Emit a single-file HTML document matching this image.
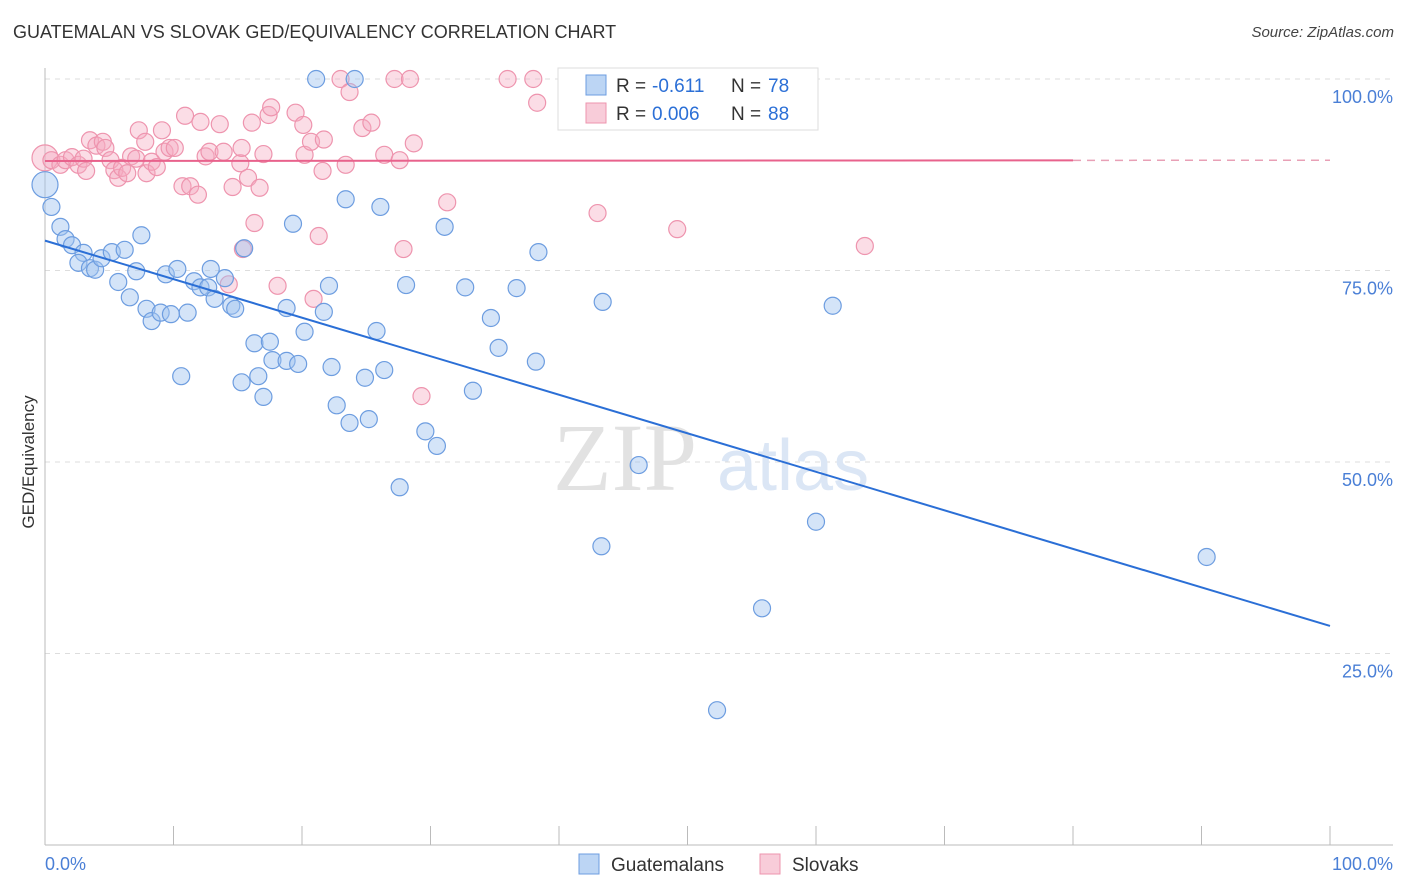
<!DOCTYPE html>
<html><head><meta charset="utf-8">
<style>
body{margin:0;background:#fff;font-family:"Liberation Sans",sans-serif;}
#wrap{position:relative;width:1406px;height:892px;overflow:hidden;}
.t{position:absolute;white-space:nowrap;}
</style></head>
<body>
<div id="wrap">
<div class="t" style="left:13px;top:22px;font-size:18px;color:#333;">GUATEMALAN VS SLOVAK GED/EQUIVALENCY CORRELATION CHART</div>
<div class="t" style="right:12px;top:24px;font-size:15px;color:#444;font-style:italic;">Source: ZipAtlas.com</div>
<svg id="svg" width="1406" height="892" style="position:absolute;left:0;top:0"></svg>
</div>
<script>
const xTickVals=[0,10,20,30,40,50,60,70,80,90,100];
const yTickVals=[25,50,75,100];
const yTickLabels=["25.0%","50.0%","75.0%","100.0%"];
const xAxisLabels=["0.0%","100.0%"];
const guatX=[21.1,24.1,0,0.5,1.2,1.6,2.1,3.0,2.6,3.5,3.9,4.4,5.2,6.2,7.5,7.1,5.7,6.6,7.9,8.3,9.0,9.8,9.4,10.3,11.1,11.6,12.1,12.7,12.9,13.2,14.0,14.5,14.8,15.5,10.6,15.3,16.3,16.6,17.0,17.5,17.7,18.8,18.8,19.3,19.7,20.2,21.7,22.1,22.3,22.7,23.4,23.7,24.9,25.2,25.8,26.1,26.4,28.1,27.6,29.6,30.5,31.1,32.7,33.3,34.7,35.3,36.7,38.2,38.4,43.3,43.4,46.2,52.3,55.8,60.0,61.3,90.4];
const guatY=[100,100,86.2,83.3,80.7,79.1,78.3,77.3,76.0,75.3,75.1,76.6,77.4,77.7,79.6,74.9,73.5,71.5,70.0,68.4,69.5,69.3,74.5,75.2,69.5,73.6,72.8,72.8,75.2,71.3,74.0,70.4,70.0,77.9,61.2,60.4,65.5,61.2,58.5,65.7,63.3,63.2,70.1,81.1,62.8,67.0,69.6,73.0,62.4,57.4,84.3,55.1,61.0,55.6,67.1,83.3,62.0,73.1,46.7,54.0,52.1,80.7,72.8,59.3,68.8,64.9,72.7,63.1,77.4,39.0,70.9,49.6,17.6,30.9,42.2,70.4,37.6];
const slovX=[0,0.5,1.2,1.6,2.1,2.6,3.0,3.2,3.5,4.0,4.5,4.7,5.1,5.4,5.7,6.0,6.4,6.7,7.3,7.1,7.8,7.9,8.3,8.7,9.1,9.3,9.7,10.1,10.7,10.9,11.3,11.9,12.1,12.5,12.8,13.6,13.9,14.3,14.6,15.2,15.3,15.4,15.8,16.1,16.3,16.7,17.0,17.4,17.6,18.1,19.5,20.1,20.2,20.7,20.9,21.3,21.6,21.7,23.0,23.7,23.4,24.7,25.4,26.4,27.2,27.6,27.9,28.4,28.7,29.3,31.3,36.0,38.0,38.3,43.0,49.2,51.8,63.8];
const slovY=[89.7,89.4,88.8,89.4,89.8,88.8,89.6,88.0,92.0,91.3,91.8,91.0,89.4,88.1,87.1,88.4,87.7,89.9,93.3,89.6,91.8,87.7,89.2,88.5,93.3,90.5,91.0,91.0,86.0,95.2,86.0,84.9,94.4,89.9,90.5,94.1,90.5,73.2,85.9,89.0,91.0,77.8,87.1,94.3,81.2,85.8,90.2,95.3,96.3,73.0,95.6,94.0,90.1,91.8,71.3,79.5,88.0,92.1,100,98.3,88.8,93.6,94.3,90.1,100,89.4,77.8,100,91.6,58.6,83.9,100,100,96.9,82.5,80.4,100,78.2];
const guatTrend=[78.9,28.6];
const slovTrend=[89.3,89.4];
const slovTrendSolidEnd=80;

const NS="http://www.w3.org/2000/svg";
const svg=document.getElementById('svg');
const X0=45,X1=1330,Y0=845,Y100=79;
const xs=v=>X0+(X1-X0)*v/100;
const ys=v=>Y0-(Y0-Y100)*v/100;
function mk(tag,attrs,parent){const e=document.createElementNS(NS,tag);for(const k in attrs)e.setAttribute(k,attrs[k]);(parent||svg).appendChild(e);return e;}

yTickVals.forEach((v,i)=>{
  const g=mk('line',{x1:X0,x2:1393,y1:ys(v),y2:ys(v),stroke:'#ddd','stroke-dasharray':'5,5'});
  
  
  const t=mk('text',{x:1393,y:ys(v)+24,'text-anchor':'end','font-size':18,fill:'#4a7fd6','font-family':'Liberation Sans, sans-serif'});
  t.textContent=yTickLabels[i];
  
  
});
const ax=mk('line',{x1:X0,x2:1393,y1:Y0,y2:Y0,stroke:'#bbb'});


const ay=mk('line',{x1:X0,x2:X0,y1:68,y2:Y0,stroke:'#bbb'});


xTickVals.forEach(v=>{
  const t=mk('line',{x1:xs(v),x2:xs(v),y1:826,y2:Y0,stroke:'#bbb'});
  
  
});
[[0,'start',45],[100,'end',1393]].forEach((d,i)=>{
  const t=mk('text',{x:d[2],y:870,'text-anchor':d[1],'font-size':18,fill:'#4a7fd6','font-family':'Liberation Sans, sans-serif'});
  t.textContent=xAxisLabels[i];
  
  
});
const yt=mk('text',{x:34,y:462,'text-anchor':'middle','font-size':17,fill:'#333',transform:'rotate(-90 34 462)','font-family':'Liberation Sans, sans-serif'});
yt.textContent='GED/Equivalency';


const w1=mk('text',{x:553,y:490,'font-size':96,fill:'#e2e2e2','font-family':'Liberation Serif, serif'});
w1.textContent='ZIP';


const w2=mk('text',{x:717,y:490,'font-size':72,fill:'#dbe6f5','font-family':'Liberation Sans, sans-serif'});
w2.textContent='atlas';



slovX.forEach((x,i)=>{
  const c=mk('circle',{cx:xs(x),cy:ys(slovY[i]),r:(x===0?13:8.5),fill:'rgba(244,170,192,0.4)',stroke:'#ee94ae','stroke-width':1.2});
  
  
});
guatX.forEach((x,i)=>{
  const c=mk('circle',{cx:xs(x),cy:ys(guatY[i]),r:(x===0?13:8.5),fill:'rgba(160,195,240,0.45)',stroke:'#6d9de0','stroke-width':1.2});
  
  
});
const bl=mk('line',{x1:xs(0),y1:ys(guatTrend[0]),x2:xs(100),y2:ys(guatTrend[1]),stroke:'#2b6fd6','stroke-width':2});


const sm=slovTrend[0]+(slovTrend[1]-slovTrend[0])*slovTrendSolidEnd/100;
const pl=mk('line',{x1:xs(0),y1:ys(slovTrend[0]),x2:xs(slovTrendSolidEnd),y2:ys(sm),stroke:'#e8628c','stroke-width':2});


const pd=mk('line',{x1:xs(slovTrendSolidEnd),y1:ys(sm),x2:xs(100),y2:ys(slovTrend[1]),stroke:'#e8a0b6','stroke-width':1.5,'stroke-dasharray':'8,6'});



const lg=mk('rect',{x:558,y:68,width:260,height:62,fill:'#fff',stroke:'#ddd'});


[[85,'rgba(160,195,240,0.7)','#6d9de0','-0.611','78'],[113,'rgba(244,170,192,0.6)','#ee94ae','0.006','88']].forEach(r=>{
  const s=mk('rect',{x:586,y:r[0]-10,width:20,height:20,fill:r[1],stroke:r[2]});
  
  
  const parts=[[616,'R =','#333'],[652,r[3],'#2b6fd6'],[731,'N =','#333'],[768,r[4],'#2b6fd6']];
  parts.forEach(p=>{
    const t=mk('text',{x:p[0],y:r[0]+7,'font-size':19,fill:p[2],'font-family':'Liberation Sans, sans-serif'});
    t.textContent=p[1];
    
    
  });
});
[[579,'rgba(160,195,240,0.7)','#6d9de0','Guatemalans'],[760,'rgba(244,170,192,0.6)','#ee94ae','Slovaks']].forEach(r=>{
  const s=mk('rect',{x:r[0],y:854,width:20,height:20,fill:r[1],stroke:r[2]});
  
  
  const t=mk('text',{x:r[0]+32,y:871,'font-size':19,fill:'#333','font-family':'Liberation Sans, sans-serif'});
  t.textContent=r[3];
  
  
});
</script>
</body></html>
